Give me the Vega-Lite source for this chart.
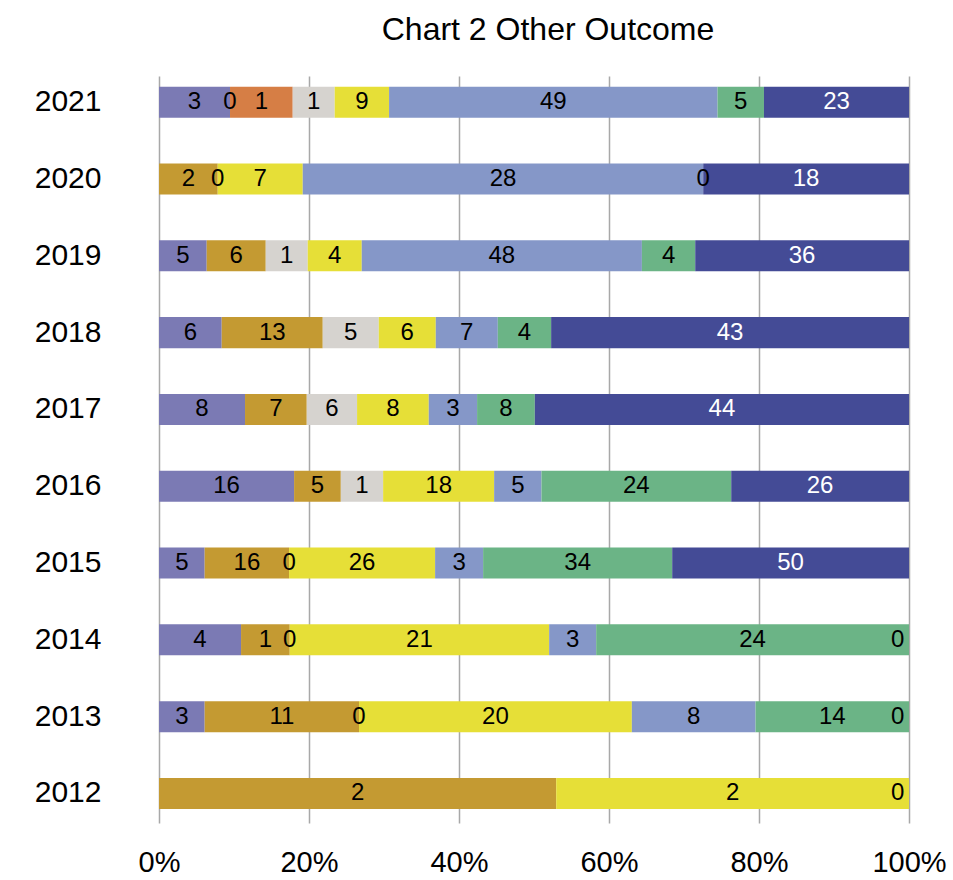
{
  "$schema": "https://vega.github.io/schema/vega-lite/v6.json",
  "width": 750,
  "height": 747,
  "autosize": "none",
  "padding": {"left": 159, "top": 76, "right": 44, "bottom": 57},
  "title": {"text": "Chart 2 Other Outcome", "fontSize": 32, "font": "Liberation Sans", "fontWeight": "normal", "color": "#000000", "anchor": "middle", "dx": 14, "offset": 4, "baseline": "alphabetic"},
  "config": {"view": {"stroke": null}, "font": "Liberation Sans"},
  "data": {"values": [
    {"year": "2021", "series": "A", "ord": 1, "pct": 9.47, "label": "3"},
    {"year": "2021", "series": "B", "ord": 2, "pct": 0, "label": "0"},
    {"year": "2021", "series": "C", "ord": 3, "pct": 8.36, "label": "1"},
    {"year": "2021", "series": "D", "ord": 4, "pct": 5.6, "label": "1"},
    {"year": "2021", "series": "E", "ord": 5, "pct": 7.25, "label": "9"},
    {"year": "2021", "series": "F", "ord": 6, "pct": 43.8, "label": "49"},
    {"year": "2021", "series": "G", "ord": 7, "pct": 6.19, "label": "5"},
    {"year": "2021", "series": "H", "ord": 8, "pct": 19.34, "label": "23"},
    {"year": "2020", "series": "B", "ord": 2, "pct": 7.83, "label": "2"},
    {"year": "2020", "series": "D", "ord": 4, "pct": 0, "label": "0"},
    {"year": "2020", "series": "E", "ord": 5, "pct": 11.34, "label": "7"},
    {"year": "2020", "series": "F", "ord": 6, "pct": 53.4, "label": "28"},
    {"year": "2020", "series": "G", "ord": 7, "pct": 0, "label": "0"},
    {"year": "2020", "series": "H", "ord": 8, "pct": 27.44, "label": "18"},
    {"year": "2019", "series": "A", "ord": 1, "pct": 6.36, "label": "5"},
    {"year": "2019", "series": "B", "ord": 2, "pct": 7.87, "label": "6"},
    {"year": "2019", "series": "D", "ord": 4, "pct": 5.6, "label": "1"},
    {"year": "2019", "series": "E", "ord": 5, "pct": 7.2, "label": "4"},
    {"year": "2019", "series": "F", "ord": 6, "pct": 37.35, "label": "48"},
    {"year": "2019", "series": "G", "ord": 7, "pct": 7.11, "label": "4"},
    {"year": "2019", "series": "H", "ord": 8, "pct": 28.5, "label": "36"},
    {"year": "2018", "series": "A", "ord": 1, "pct": 8.36, "label": "6"},
    {"year": "2018", "series": "B", "ord": 2, "pct": 13.47, "label": "13"},
    {"year": "2018", "series": "D", "ord": 4, "pct": 7.47, "label": "5"},
    {"year": "2018", "series": "E", "ord": 5, "pct": 7.6, "label": "6"},
    {"year": "2018", "series": "F", "ord": 6, "pct": 8.27, "label": "7"},
    {"year": "2018", "series": "G", "ord": 7, "pct": 7.11, "label": "4"},
    {"year": "2018", "series": "H", "ord": 8, "pct": 47.71, "label": "43"},
    {"year": "2017", "series": "A", "ord": 1, "pct": 11.47, "label": "8"},
    {"year": "2017", "series": "B", "ord": 2, "pct": 8.23, "label": "7"},
    {"year": "2017", "series": "D", "ord": 4, "pct": 6.71, "label": "6"},
    {"year": "2017", "series": "E", "ord": 5, "pct": 9.56, "label": "8"},
    {"year": "2017", "series": "F", "ord": 6, "pct": 6.44, "label": "3"},
    {"year": "2017", "series": "G", "ord": 7, "pct": 7.7, "label": "8"},
    {"year": "2017", "series": "H", "ord": 8, "pct": 49.89, "label": "44"},
    {"year": "2016", "series": "A", "ord": 1, "pct": 18.01, "label": "16"},
    {"year": "2016", "series": "B", "ord": 2, "pct": 6.23, "label": "5"},
    {"year": "2016", "series": "D", "ord": 4, "pct": 5.64, "label": "1"},
    {"year": "2016", "series": "E", "ord": 5, "pct": 14.8, "label": "18"},
    {"year": "2016", "series": "F", "ord": 6, "pct": 6.31, "label": "5"},
    {"year": "2016", "series": "G", "ord": 7, "pct": 25.3, "label": "24"},
    {"year": "2016", "series": "H", "ord": 8, "pct": 23.7, "label": "26"},
    {"year": "2015", "series": "A", "ord": 1, "pct": 6.09, "label": "5"},
    {"year": "2015", "series": "B", "ord": 2, "pct": 11.25, "label": "16"},
    {"year": "2015", "series": "D", "ord": 4, "pct": 0, "label": "0"},
    {"year": "2015", "series": "E", "ord": 5, "pct": 19.47, "label": "26"},
    {"year": "2015", "series": "F", "ord": 6, "pct": 6.4, "label": "3"},
    {"year": "2015", "series": "G", "ord": 7, "pct": 25.21, "label": "34"},
    {"year": "2015", "series": "H", "ord": 8, "pct": 31.57, "label": "50"},
    {"year": "2014", "series": "A", "ord": 1, "pct": 10.94, "label": "4"},
    {"year": "2014", "series": "B", "ord": 2, "pct": 6.49, "label": "1"},
    {"year": "2014", "series": "D", "ord": 4, "pct": 0, "label": "0"},
    {"year": "2014", "series": "E", "ord": 5, "pct": 34.59, "label": "21"},
    {"year": "2014", "series": "F", "ord": 6, "pct": 6.27, "label": "3"},
    {"year": "2014", "series": "G", "ord": 7, "pct": 41.71, "label": "24"},
    {"year": "2014", "series": "H", "ord": 8, "pct": 0, "label": "0"},
    {"year": "2013", "series": "A", "ord": 1, "pct": 6.09, "label": "3"},
    {"year": "2013", "series": "B", "ord": 2, "pct": 20.58, "label": "11"},
    {"year": "2013", "series": "D", "ord": 4, "pct": 0, "label": "0"},
    {"year": "2013", "series": "E", "ord": 5, "pct": 36.37, "label": "20"},
    {"year": "2013", "series": "F", "ord": 6, "pct": 16.49, "label": "8"},
    {"year": "2013", "series": "G", "ord": 7, "pct": 20.46, "label": "14"},
    {"year": "2013", "series": "H", "ord": 8, "pct": 0, "label": "0"},
    {"year": "2012", "series": "B", "ord": 2, "pct": 52.96, "label": "2"},
    {"year": "2012", "series": "E", "ord": 5, "pct": 47.04, "label": "2"},
    {"year": "2012", "series": "H", "ord": 8, "pct": 0, "label": "0"}
  ]},
  "transform": [
    {"stack": "pct", "groupby": ["year"], "sort": [{"field": "ord", "order": "ascending"}], "as": ["x0", "x1"], "offset": "normalize"},
    {"calculate": "min((datum.x0 + datum.x1) / 2, 0.985)", "as": "xm"}
  ],
  "encoding": {
    "y": {
      "field": "year", "type": "nominal", "sort": "descending",
      "scale": {"paddingInner": 0.596, "paddingOuter": 0.161, "align": 0.433},
      "axis": {"title": null, "domain": false, "ticks": false, "labelFontSize": 30, "labelColor": "#000000", "labelPadding": 58, "labelFont": "Liberation Sans"}
    }
  },
  "layer": [
    {
      "mark": {"type": "bar"},
      "encoding": {
        "x": {
          "field": "x0", "type": "quantitative",
          "scale": {"domain": [0, 1], "nice": false},
          "axis": {"title": null, "format": "%", "values": [0, 0.2, 0.4, 0.6, 0.8, 1], "domain": false, "ticks": false, "grid": true, "gridColor": "#A8A8A8", "gridWidth": 1.5, "labelFontSize": 29, "labelPadding": 25, "labelColor": "#000000", "labelFont": "Liberation Sans", "labelOverlap": false, "labelFlush": false}
        },
        "x2": {"field": "x1"},
        "color": {
          "field": "series", "type": "nominal",
          "scale": {"domain": ["A", "B", "C", "D", "E", "F", "G", "H"], "range": ["#7B7AB4", "#C49A32", "#D67E45", "#D6D3CF", "#E6DF37", "#8597C8", "#6BB486", "#444B96"]},
          "legend": null
        }
      }
    },
    {
      "mark": {"type": "text", "fontSize": 24, "baseline": "middle", "align": "center", "font": "Liberation Sans"},
      "encoding": {
        "x": {"field": "xm", "type": "quantitative"},
        "text": {"field": "label"},
        "color": {"condition": {"test": "datum.series === 'H' && datum.pct > 0", "value": "#FFFFFF"}, "value": "#000000"}
      }
    }
  ]
}
